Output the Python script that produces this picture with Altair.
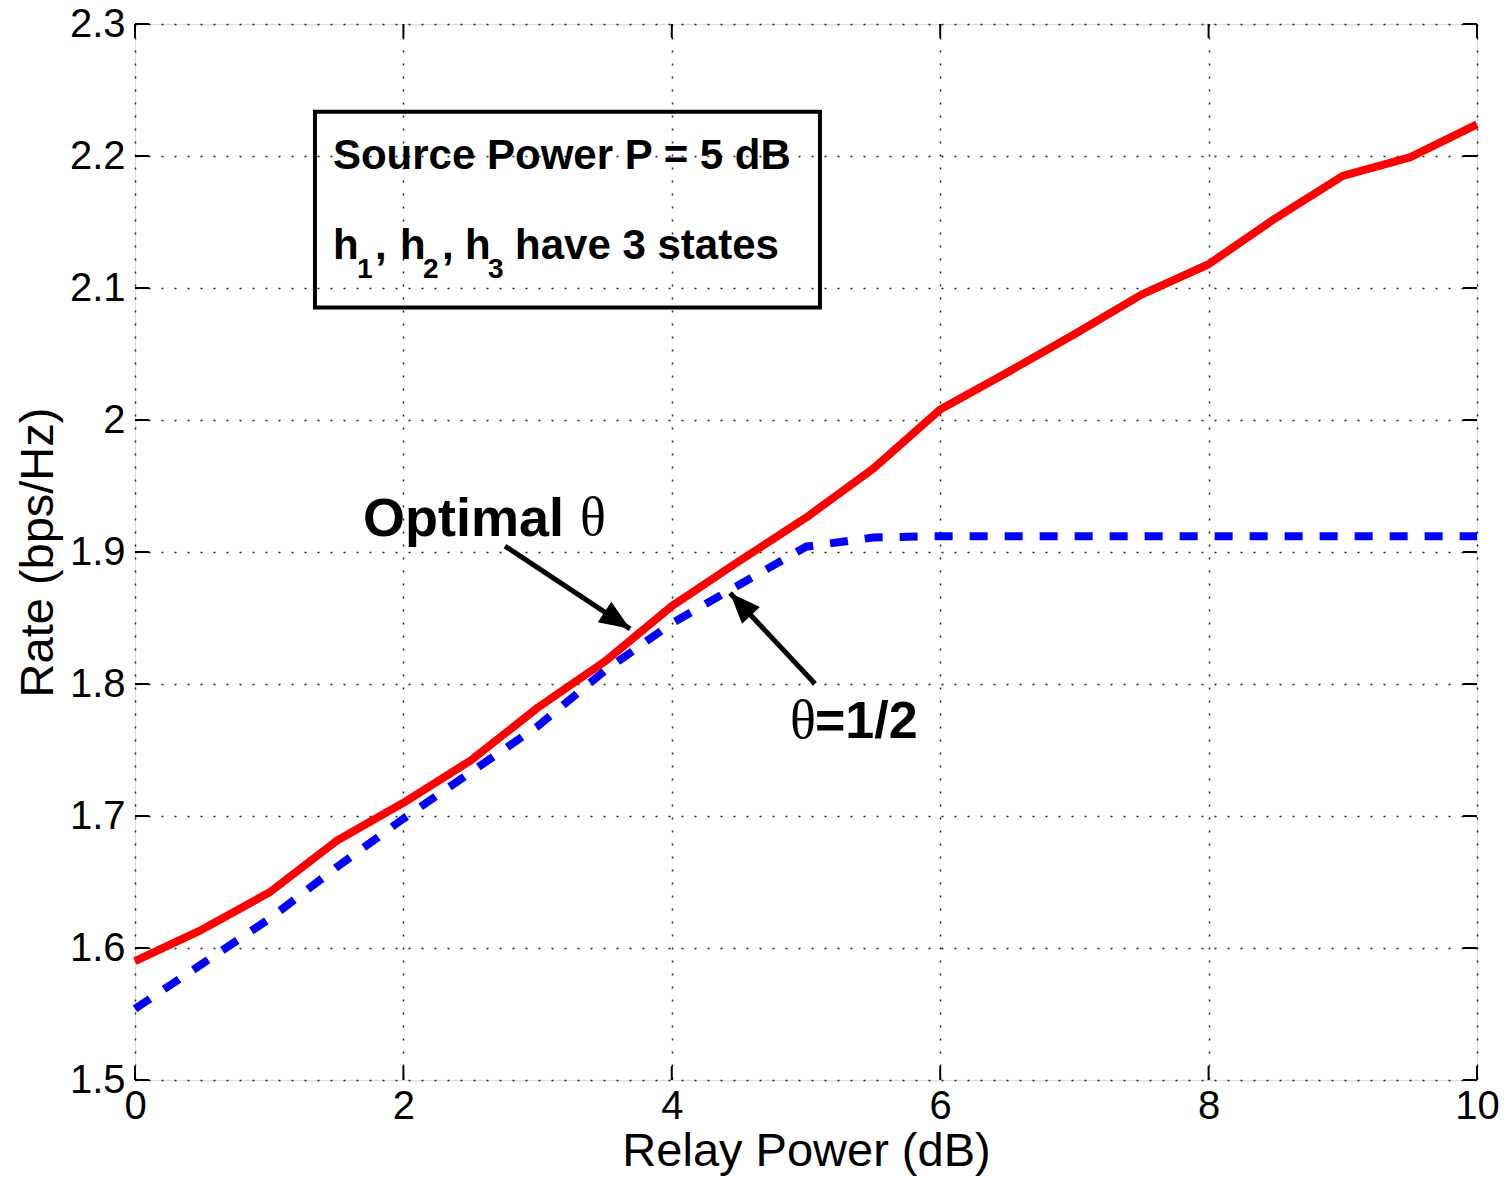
import math
import altair as alt
import pandas as pd

# ---------------- data ----------------
relay_db = [0, 0.5, 1, 1.5, 2, 2.5, 3, 3.5, 4, 4.5, 5, 5.5, 6, 6.5, 7, 7.5, 8, 8.5, 9, 9.5, 10]
rate_optimal = [1.590, 1.614, 1.642, 1.681, 1.710, 1.742, 1.782, 1.817, 1.859, 1.893, 1.926,
                1.963, 2.008, 2.036, 2.065, 2.095, 2.118, 2.153, 2.185, 2.199, 2.224]
rate_half = [1.554, 1.588, 1.622, 1.661, 1.698, 1.733, 1.768, 1.810, 1.846, 1.875, 1.904,
             1.911, 1.912, 1.912, 1.912, 1.912, 1.912, 1.912, 1.912, 1.912, 1.912]
x_ticks = [0, 2, 4, 6, 8, 10]
y_ticks = [1.5, 1.6, 1.7, 1.8, 1.9, 2.0, 2.1, 2.2, 2.3]

# annotation content (data coordinates)
box_x = [1.341, 5.104]
box_y = [2.0853, 2.2335]
box_texts = ["Source Power P = 5 dB", "h", "1", ",", "h", "2", ",", "h", "3", "have 3 states"]
box_text_x = [1.475, 1.475, 1.654, 1.788, 1.975, 2.146, 2.288, 2.459, 2.630, 2.832]
box_text_y = [2.1904, 2.1216, 2.1072, 2.1216, 2.1216, 2.1072, 2.1216, 2.1216, 2.1072, 2.1216]
box_text_size = [42, 42, 28, 42, 42, 28, 42, 42, 28, 42]

label_texts = ["Optimal", "=1/2"]
label_x = [1.699, 5.067]
label_y = [1.912, 1.7594]
theta_x = [3.316, 4.881]
theta_y = [1.913, 1.7594]

arrow_x1 = [2.757, 5.067]
arrow_y1 = [1.9045, 1.8002]
arrow_x2 = [3.689, 4.434]
arrow_y2 = [1.8418, 1.869]

# ---------------- layout ----------------
W, H = 1342, 1056
XD, YD = [0, 10], [1.5, 2.3]
px_x = W / (XD[1] - XD[0])
px_y = H / (YD[1] - YD[0])

FONT = "Liberation Sans"
xs = alt.Scale(domain=XD, nice=False, zero=False)
ys = alt.Scale(domain=YD, nice=False, zero=False)

xaxis = alt.Axis(values=x_ticks, title="Relay Power (dB)", grid=True, ticks=False, domain=False,
                 labelFont=FONT, labelFontSize=40, labelColor="black", labelPadding=6,
                 labelFlush=False, labelOverlap=False,
                 titleFont=FONT, titleFontSize=47, titleFontWeight="normal", titleColor="black",
                 titlePadding=2, gridColor="#222", gridDash=[2, 11], gridWidth=1.5, format="d")
yaxis = alt.Axis(values=y_ticks, title="Rate (bps/Hz)", grid=True, ticks=False, domain=False,
                 labelFont=FONT, labelFontSize=40, labelColor="black", labelPadding=10,
                 labelFlush=False, labelOverlap=False,
                 labelExpr="datum.value === 2 ? '2' : format(datum.value, '.1f')",
                 titleFont=FONT, titleFontSize=47, titleFontWeight="normal", titleColor="black",
                 titlePadding=7, gridColor="#222", gridDash=[2, 11], gridWidth=1.5)

def X(field):
    return alt.X(field, type="quantitative", scale=xs, axis=xaxis)

def Y(field):
    return alt.Y(field, type="quantitative", scale=ys, axis=yaxis)

df = pd.DataFrame({"x": relay_db, "opt": rate_optimal, "half": rate_half})

line_opt = alt.Chart(df).mark_line(color="#ff0000", strokeWidth=8, strokeJoin="round").encode(
    x=X("x"), y=Y("opt"))
line_half = alt.Chart(df).mark_line(color="#0000ff", strokeWidth=8, strokeDash=[18, 17]).encode(
    x=X("x"), y=Y("half"))

# inward ticks
xt = pd.DataFrame({"x": x_ticks})
yt = pd.DataFrame({"y": y_ticks})
tick_style = dict(color="black", strokeWidth=2)
t_bottom = alt.Chart(xt).mark_rule(**tick_style).encode(x=X("x"), y=alt.value(H), y2=alt.value(H - 14))
t_top = alt.Chart(xt).mark_rule(**tick_style).encode(x=X("x"), y=alt.value(0), y2=alt.value(14))
t_left = alt.Chart(yt).mark_rule(**tick_style).encode(y=Y("y"), x=alt.value(0), x2=alt.value(14))
t_right = alt.Chart(yt).mark_rule(**tick_style).encode(y=Y("y"), x=alt.value(W - 14), x2=alt.value(W))

# annotation box
box_df = pd.DataFrame({"x": [box_x[0]], "x2": [box_x[1]], "y": [box_y[0]], "y2": [box_y[1]]})
box = alt.Chart(box_df).mark_rect(fillOpacity=0, stroke="black", strokeWidth=4).encode(
    x=X("x"), x2="x2", y=Y("y"), y2="y2")

bt_df = pd.DataFrame({"x": box_text_x, "y": box_text_y, "t": box_texts, "s": box_text_size})
box_text = alt.Chart(bt_df).mark_text(font=FONT, fontWeight="bold", align="left",
                                      baseline="alphabetic", color="black").encode(
    x=X("x"), y=Y("y"), text="t:N", size=alt.Size("s:Q", scale=None, legend=None))

lab_df = pd.DataFrame({"x": label_x, "y": label_y, "t": label_texts, "s": [54, 52]})
labels = alt.Chart(lab_df).mark_text(font=FONT, fontWeight="bold", align="left",
                                     baseline="alphabetic", color="black").encode(
    x=X("x"), y=Y("y"), text="t:N", size=alt.Size("s:Q", scale=None, legend=None))
th_df = pd.DataFrame({"x": theta_x, "y": theta_y, "t": ["θ", "θ"]})
thetas = alt.Chart(th_df).mark_text(font="Liberation Serif", fontSize=54, align="left",
                                    baseline="alphabetic", color="black").encode(
    x=X("x"), y=Y("y"), text="t:N")

# arrows
angles = []
for i in range(len(arrow_x1)):
    dx = (arrow_x2[i] - arrow_x1[i]) * px_x
    dy = -(arrow_y2[i] - arrow_y1[i]) * px_y
    angles.append((90 + math.degrees(math.atan2(dy, dx))) % 360)
ar_df = pd.DataFrame({"x": arrow_x1, "y": arrow_y1, "x2": arrow_x2, "y2": arrow_y2, "a": angles})
shafts = alt.Chart(ar_df).mark_rule(color="black", strokeWidth=5).encode(
    x=X("x"), y=Y("y"), x2="x2", y2="y2")
heads = alt.Chart(ar_df).mark_point(shape="M0,0L-0.5,1.25L0.5,1.25Z", filled=True, color="black",
                                    opacity=1, size=2400).encode(
    x=X("x2"), y=Y("y2"), angle=alt.Angle("a:Q", scale=None))

chart = alt.layer(
    line_half, line_opt, t_bottom, t_top, t_left, t_right, box, box_text, labels, thetas, shafts, heads
).properties(
    width=W, height=H,
    autosize=alt.AutoSizeParams(type="none"),
    padding={"left": 127, "top": 16, "right": 26, "bottom": 100},
).configure_view(stroke="black", strokeWidth=2.5).configure(background="white")

chart.save("out.html", embed_options={"renderer": "svg", "actions": False})
